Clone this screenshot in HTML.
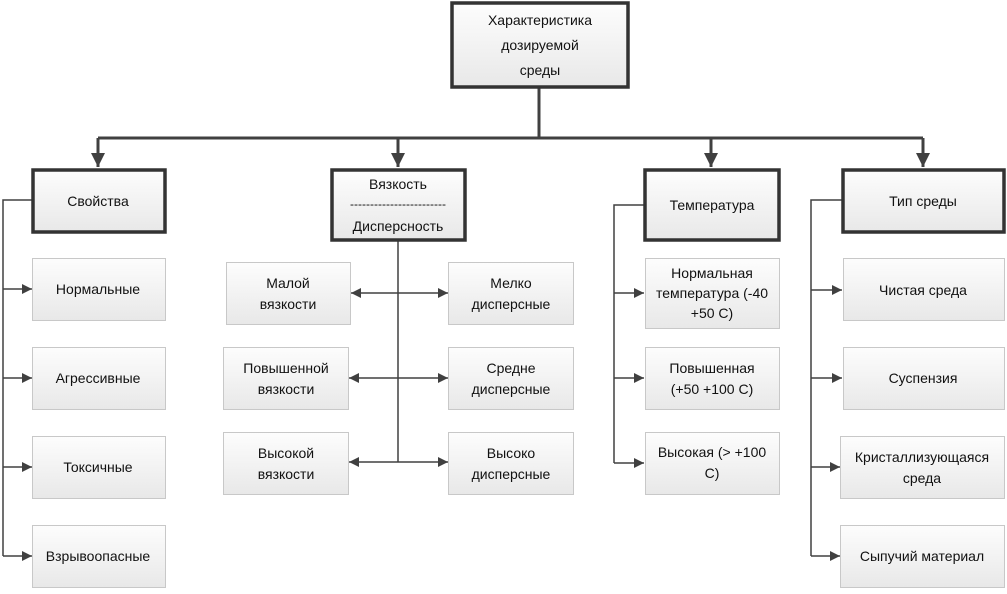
<!DOCTYPE html>
<html><head><meta charset="utf-8"><style>
html,body{margin:0;padding:0;background:#fff;}
svg text{font-family:"Liberation Sans",sans-serif;font-size:14px;fill:#111;text-anchor:middle;}
</style></head><body>
<svg width="1007" height="589" viewBox="0 0 1007 589" xmlns="http://www.w3.org/2000/svg">
<defs>
<linearGradient id="g" x1="0" y1="0" x2="0" y2="1"><stop offset="0" stop-color="#fdfdfd"/><stop offset="1" stop-color="#e8e8e8"/></linearGradient>
<marker id="a" viewBox="0 0 10 10" refX="10" refY="5" markerWidth="10" markerHeight="10" markerUnits="userSpaceOnUse" orient="auto"><path d="M0,0L10,5L0,10z" fill="#404040"/></marker>
<marker id="A" viewBox="0 0 10 10" refX="10" refY="5" markerWidth="14" markerHeight="14" markerUnits="userSpaceOnUse" orient="auto"><path d="M0,0L10,5L0,10z" fill="#404040"/></marker>
<marker id="s" viewBox="0 0 10 10" refX="0" refY="5" markerWidth="10" markerHeight="10" markerUnits="userSpaceOnUse" orient="auto"><path d="M10,0L0,5L10,10z" fill="#404040"/></marker>
</defs>
<g stroke="#404040" fill="none">
<path d="M539,88V138" stroke-width="3"/>
<path d="M98,138H923" stroke-width="3"/>
<path d="M98,138V167" stroke-width="3" marker-end="url(#A)"/>
<path d="M398,138V167" stroke-width="3" marker-end="url(#A)"/>
<path d="M711,138V167" stroke-width="3" marker-end="url(#A)"/>
<path d="M923,138V167" stroke-width="3" marker-end="url(#A)"/>
<g stroke-width="1.5">
<path d="M32,200H3V556"/>
<path d="M3,289H32" marker-end="url(#a)"/><path d="M3,378H32" marker-end="url(#a)"/><path d="M3,467H32" marker-end="url(#a)"/><path d="M3,556H32" marker-end="url(#a)"/>
<path d="M398,240V462"/>
<path d="M351,293H448" marker-start="url(#s)" marker-end="url(#a)"/>
<path d="M349,378H448" marker-start="url(#s)" marker-end="url(#a)"/>
<path d="M349,462H448" marker-start="url(#s)" marker-end="url(#a)"/>
<path d="M644,205H614V463"/>
<path d="M614,293H644" marker-end="url(#a)"/><path d="M614,378H644" marker-end="url(#a)"/><path d="M614,463H644" marker-end="url(#a)"/>
<path d="M842,200H811V556"/>
<path d="M811,290H842" marker-end="url(#a)"/><path d="M811,378H842" marker-end="url(#a)"/><path d="M811,467H840" marker-end="url(#a)"/><path d="M811,556H840" marker-end="url(#a)"/>
</g>
</g>
<g fill="url(#g)" stroke="#333" stroke-width="3.5">
<rect x="452" y="3" width="176" height="84"/>
<rect x="33" y="170" width="132" height="62"/>
<rect x="332" y="170" width="133" height="70"/>
<rect x="645" y="170" width="134" height="70"/>
<rect x="843" y="170" width="161" height="62"/>
</g>
<g fill="url(#g)" stroke="#c8c8c8" stroke-width="1">
<rect x="32.5" y="258.5" width="133" height="62"/>
<rect x="32.5" y="347.5" width="133" height="62"/>
<rect x="32.5" y="436.5" width="133" height="62"/>
<rect x="32.5" y="525.5" width="133" height="62"/>
<rect x="226.5" y="262.5" width="124" height="62"/>
<rect x="223.5" y="347.5" width="125" height="62"/>
<rect x="223.5" y="432.5" width="125" height="62"/>
<rect x="448.5" y="262.5" width="125" height="62"/>
<rect x="448.5" y="347.5" width="125" height="62"/>
<rect x="448.5" y="432.5" width="125" height="62"/>
<rect x="645.5" y="258.5" width="134" height="70"/>
<rect x="645.5" y="347.5" width="134" height="62"/>
<rect x="645.5" y="432.5" width="134" height="62"/>
<rect x="843.5" y="258.5" width="161" height="62"/>
<rect x="843.5" y="347.5" width="161" height="62"/>
<rect x="840.5" y="436.5" width="164" height="62"/>
<rect x="840.5" y="525.5" width="164" height="62"/>
</g>
<g style="font-size:17px">
<text x="540" y="25">Характеристика</text>
<text x="540" y="50">дозируемой</text>
<text x="540" y="75">среды</text>
</g>
<text x="98" y="206">Свойства</text>
<text x="398" y="189">Вязкость</text>
<text x="398" y="208" style="font-size:12px">------------------------</text>
<text x="398" y="231">Дисперсность</text>
<text x="712" y="210">Температура</text>
<text x="923" y="206">Тип среды</text>
<text x="98" y="294">Нормальные</text>
<text x="98" y="383">Агрессивные</text>
<text x="98" y="472">Токсичные</text>
<text x="98" y="561">Взрывоопасные</text>
<text x="288" y="288">Малой</text><text x="288" y="309">вязкости</text>
<text x="286" y="373">Повышенной</text><text x="286" y="394">вязкости</text>
<text x="286" y="458">Высокой</text><text x="286" y="479">вязкости</text>
<text x="511" y="288">Мелко</text><text x="511" y="309">дисперсные</text>
<text x="511" y="373">Средне</text><text x="511" y="394">дисперсные</text>
<text x="511" y="458">Высоко</text><text x="511" y="479">дисперсные</text>
<text x="712" y="278">Нормальная</text><text x="712" y="298">температура (-40</text><text x="712" y="318">+50 С)</text>
<text x="712" y="373">Повышенная</text><text x="712" y="394">(+50 +100 С)</text>
<text x="712" y="457">Высокая (&gt; +100</text><text x="712" y="478">С)</text>
<text x="923" y="295">Чистая среда</text>
<text x="923" y="383">Суспензия</text>
<text x="922" y="462">Кристаллизующаяся</text><text x="922" y="483">среда</text>
<text x="922" y="561">Сыпучий материал</text>
</svg>
</body></html>
